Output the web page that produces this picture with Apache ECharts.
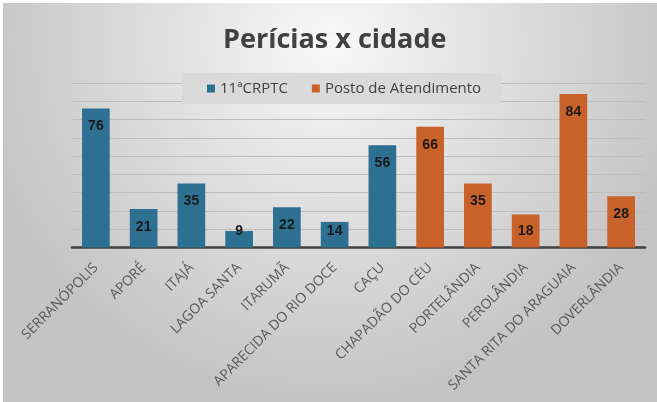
<!DOCTYPE html>
<html>
<head>
<meta charset="utf-8">
<script src="https://cdn.jsdelivr.net/npm/echarts@6/dist/echarts.min.js"></script>
<style>
html,body{margin:0;padding:0;background:#ffffff;width:657px;height:402px;overflow:hidden;}
#c{position:absolute;left:3px;top:3px;width:654px;height:399px;}
</style>
</head>
<body>
<div id="c"></div>
<script>
const categories = ["SERRANÓPOLIS","APORÉ","ITAJÁ","LAGOA SANTA","ITARUMÃ","APARECIDA DO RIO DOCE","CAÇU","CHAPADÃO DO CÉU","PORTELÂNDIA","PEROLÂNDIA","SANTA RITA DO ARAGUAIA","DOVERLÂNDIA"];
const crptc = [76, 21, 35, 9, 22, 14, 56, null, null, null, null, null];
const posto = [null, null, null, null, null, null, null, 66, 35, 18, 84, 28];
const seriesNames = ["11ªCRPTC", "Posto de Atendimento"];
const yTicks = {min: 0, max: 90, interval: 10};

const chart = echarts.init(document.getElementById('c'));
const labelBase = {
  show: true, align: 'center', verticalAlign: 'middle',
  fontFamily: 'Liberation Sans', fontWeight: 'bold', fontSize: 14, color: '#1a1a1a'
};
function build(values) {
  return values.map(v => v == null ? '-' : {value: v});
}
const option = {
  animation: false,
  backgroundColor: {type:'radial', x:0.5, y:0.1, r:0.9, colorStops:[{offset:0,color:'#f8f8f8'},{offset:1,color:'#c4c4c4'}]},
  title: {
    text: 'Perícias x cidade', left: 215, top: 19,
    textStyle: {fontFamily: 'Open Sans', fontWeight: 'bold', fontSize: 27, color: '#404040'}
  },
  legend: {
    data: seriesNames, left: 179, top: 70, icon: 'rect', itemWidth: 8, itemHeight: 8,
    itemGap: 24, backgroundColor: '#dadada', padding: [8, 20, 8, 25],
    textStyle: {fontFamily: 'Open Sans', fontSize: 15, color: '#404040'}
  },
  grid: {left: 69, right: 12, top: 80, bottom: 154.5},
  xAxis: {
    type: 'category', data: categories,
    axisLine: {lineStyle: {color: '#404040', width: 2.5}},
    axisTick: {show: false},
    axisLabel: {rotate: 45, interval: 0, fontFamily: 'Open Sans', fontSize: 14, color: '#595959', margin: 18}
  },
  yAxis: {
    type: 'value', min: yTicks.min, max: yTicks.max, interval: yTicks.interval,
    axisLabel: {show: false}, axisLine: {show: false}, axisTick: {show: false},
    splitLine: {lineStyle: {color: '#bdbdbd', width: 1}}
  },
  series: [
    {name: seriesNames[0], type: 'bar', stack: 's', barWidth: '58%', data: build(crptc),
     itemStyle: {color: '#2e7092'}, label: labelBase},
    {name: seriesNames[1], type: 'bar', stack: 's', barWidth: '58%', data: build(posto),
     itemStyle: {color: '#c9612a'}, label: labelBase}
  ]
};
chart.setOption(option);
// place labels: inside near top, clamped above baseline
const base = chart.convertToPixel({gridIndex: 0}, [0, 0])[1];
function withLabels(values) {
  return values.map((v, i) => {
    if (v == null) return '-';
    const top = chart.convertToPixel({gridIndex: 0}, [i, v])[1];
    const h = base - top;
    const dy = Math.min(18, h - 16);
    return {value: v, label: {position: ['50%', dy]}};
  });
}
chart.setOption({series: [{data: withLabels(crptc)}, {data: withLabels(posto)}]});
</script>
</body>
</html>
